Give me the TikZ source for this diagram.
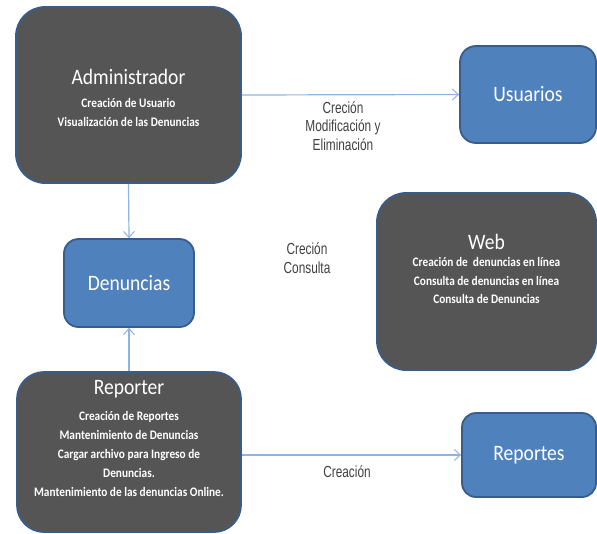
\documentclass[tikz,border=0pt]{standalone}
\usepackage{fontspec}
\setmainfont{Carlito}
\newfontfamily\titlefont[FakeStretch=0.89]{Carlito}
\newfontfamily\bodyfont[FakeStretch=0.87]{Carlito}
\newfontfamily\labfont[FakeStretch=0.74]{Liberation Sans}
\usetikzlibrary{arrows.meta}
\definecolor{darkfill}{HTML}{555555}
\definecolor{bluefill}{HTML}{4F81BD}
\definecolor{blueline}{HTML}{385D8A}
\definecolor{arrowcol}{HTML}{8DB4E2}
\definecolor{labcol}{HTML}{404040}
\tikzset{
  darkbox/.style={draw=blueline, line width=1.8pt, fill=darkfill, inner sep=0pt},
  bluebox/.style={draw=blueline, line width=1.8pt, fill=bluefill, inner sep=0pt, text=white,
    font=\titlefont\fontsize{22}{26}\selectfont},
  titletext/.style={text=white, inner sep=0pt, font=\titlefont\fontsize{22}{26}\selectfont},
  bodytext/.style={text=white, inner sep=0pt, align=center, anchor=north,
    font=\bodyfont\bfseries\fontsize{13}{19}\selectfont},
  labeltext/.style={text=labcol, inner sep=0pt, align=center,
    font=\labfont\fontsize{16}{18.8}\selectfont},
  conn/.style={draw=arrowcol, line width=1.2pt, -{Straight Barb[length=6pt,width=11pt,line width=1pt]}}
}
\begin{document}
\begin{tikzpicture}[x=1pt,y=-1pt]
\useasboundingbox (0,0) rectangle (597,533);
% boxes
\node[darkbox, rounded corners=29pt, minimum width=225pt, minimum height=176pt] (adm) at (128.5,95) {};
\node[bluebox, rounded corners=16pt, minimum width=136pt, minimum height=97pt] (usu) at (528,94.5) {Usuarios};
\node[darkbox, rounded corners=29pt, minimum width=219pt, minimum height=177pt] (web) at (486.5,281.5) {};
\node[bluebox, rounded corners=14.5pt, minimum width=130pt, minimum height=88pt] (den) at (129,283) {Denuncias};
\node[darkbox, rounded corners=27pt, minimum width=224pt, minimum height=160pt] (rep) at (129,452) {};
\node[bluebox, rounded corners=14pt, minimum width=134pt, minimum height=84pt] (rpt) at (529,455) {Reportes};
% texts inside dark boxes
\node[titletext] (admT) at (128.5,77) {Administrador};
\node[bodytext] (admB) at (128.5,98.5) {Creación de Usuario\\Visualización de las Denuncias};
\node[titletext] (webT) at (486.5,242) {Web};
\node[bodytext, font=\bodyfont\bfseries\fontsize{13}{18.5}\selectfont] (webB) at (486.5,257.5) {Creación de \ denuncias en línea\\Consulta de denuncias en línea\\Consulta de Denuncias};
\node[titletext] (repT) at (129,389) {Reporter};
\node[bodytext] (repB) at (129,411.5) {Creación de Reportes\\Mantenimiento de Denuncias\\Cargar archivo para Ingreso de\\Denuncias.\\Mantenimiento de las denuncias Online.};
% connectors
\draw[conn] (adm.east) -- (usu.west);
\draw[conn] (adm.south) -- (den.north);
\draw[conn] (rep.north) -- (den.south);
\draw[conn] (rep.east |- rpt.west) -- (rpt.west);
% labels
\node[labeltext] (lab1) at (343,126) {Creción\\Modificación y\\Eliminación};
\node[labeltext] (lab2) at (307,258.5) {Creción\\Consulta};
\node[labeltext] (lab3) at (347,472) {Creación};
\end{tikzpicture}
\end{document}
